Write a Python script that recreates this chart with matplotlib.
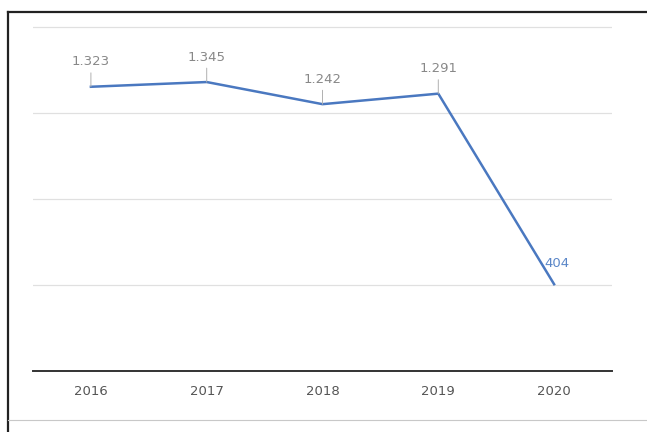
import matplotlib
matplotlib.use("Agg")
import matplotlib.pyplot as plt
from matplotlib.lines import Line2D

years = ["2016", "2017", "2018", "2019", "2020"]
values = [1323, 1345, 1242, 1291, 404]
gridvals = [400, 800, 1200, 1600]

W, H = 647, 432
fig = plt.figure(figsize=(W / 100, H / 100), dpi=100)
fig.patch.set_facecolor("white")

ax = fig.add_axes([33 / W, (H - 371) / H, (612 - 33) / W, (371 - 12) / H])
ax.set_xlim(-0.5, len(years) - 0.5)
ax.set_ylim(0, 1671)
for s in ["top", "right", "left"]:
    ax.spines[s].set_visible(False)
ax.spines["bottom"].set_color("#333333")
ax.spines["bottom"].set_linewidth(1.4)

for g in gridvals:
    ax.axhline(g, color="#e0e0e0", lw=0.9, zorder=0)

x = list(range(len(years)))
ax.plot(x, values, color="#4a78c0", lw=1.8, zorder=3)

def fmt(v):
    return f"{v:,}".replace(",", ".")

offsets = [(0, 18), (0, 18), (0, 18), (0, 18), (2, 15)]
for i, v in enumerate(values):
    col = "#5b87c8" if i == len(values) - 1 else "#888888"
    dx, dy = offsets[i]
    ax.annotate(fmt(v), xy=(i, v), xytext=(dx, dy), textcoords="offset points",
                ha="center", va="center", fontsize=9.5, color=col, zorder=4)
    if i < len(values) - 1:
        ax.annotate("", xy=(i, v), xytext=(0, 10), textcoords="offset points",
                    arrowprops=dict(arrowstyle="-", color="#b0b0b0", lw=0.7,
                                    shrinkA=0, shrinkB=0))

ax.set_xticks(x)
ax.set_xticklabels(years, fontsize=9.5, color="#555555")
ax.tick_params(axis="x", length=0, pad=10)
ax.set_yticks([])

# outer frame (scanned box)
fig.add_artist(Line2D([8 / W, 8 / W], [0, 1 - 12 / H], transform=fig.transFigure,
                      color="#222222", lw=1.6))
fig.add_artist(Line2D([8 / W, 1], [1 - 12 / H, 1 - 12 / H], transform=fig.transFigure,
                      color="#222222", lw=1.6))
fig.add_artist(Line2D([8 / W, 1], [1 - 420 / H, 1 - 420 / H], transform=fig.transFigure,
                      color="#c8c8c8", lw=0.8))

fig.savefig("out.png", dpi=100)
